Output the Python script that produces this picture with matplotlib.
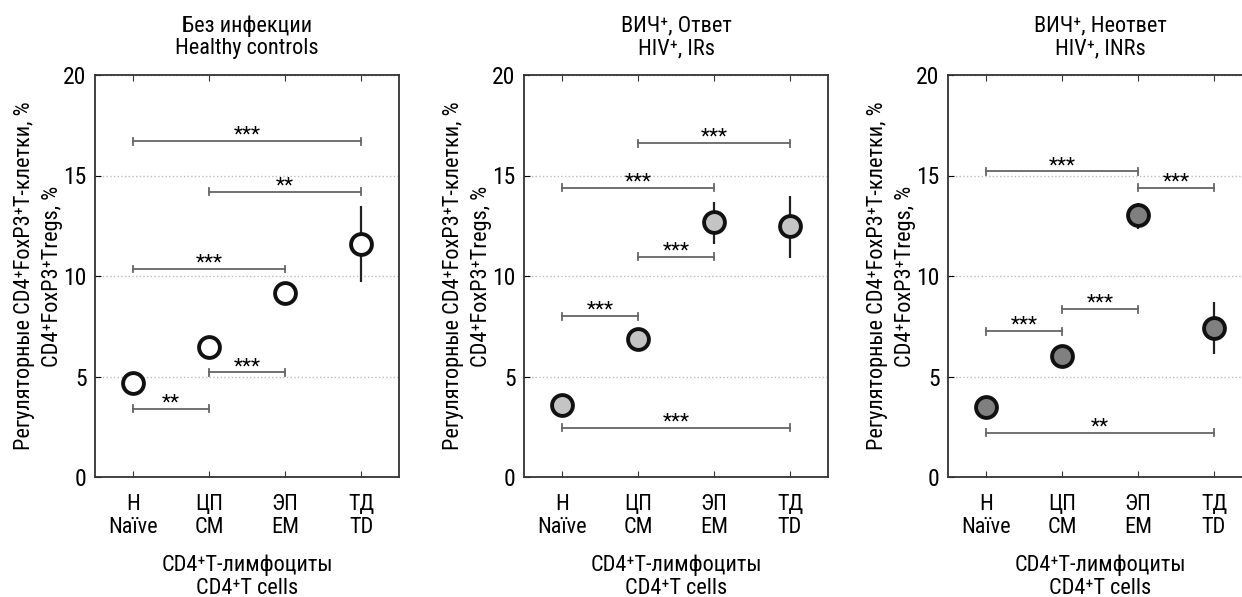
import matplotlib
matplotlib.use('Agg')
import matplotlib.pyplot as plt
import numpy as np

plt.rcParams['font.family'] = ['Roboto Condensed', 'DejaVu Sans']

# categories
categories = ['Н\nNaïve', 'ЦП\nCM', 'ЭП\nEM', 'ТД\nTD']
titles = ['Без инфекции\nHealthy controls', 'ВИЧ⁺, Ответ\nHIV⁺, IRs',
          'ВИЧ⁺, Неответ\nHIV⁺, INRs']
ylabel = 'Регуляторные CD4⁺FoxP3⁺T-клетки, %\nCD4⁺FoxP3⁺Tregs, %'
xlabel = 'CD4⁺T-лимфоциты\nCD4⁺T cells'
fills = ['white', '#c4c4c4', '#808080']

# means and error bar limits (low, high) per group
means_hc = [4.7, 6.45, 9.15, 11.6]
err_lo_hc = [4.5, 6.3, 9.0, 9.7]
err_hi_hc = [4.9, 6.6, 9.3, 13.5]

means_ir = [3.6, 6.85, 12.7, 12.5]
err_lo_ir = [3.4, 6.7, 11.6, 10.9]
err_hi_ir = [3.8, 7.0, 13.7, 14.0]

means_inr = [3.5, 6.0, 13.05, 7.4]
err_lo_inr = [3.3, 5.8, 12.35, 6.1]
err_hi_inr = [3.7, 6.2, 13.65, 8.7]

# significance brackets: (from, to, height, label)
brackets_hc = [(1, 4, 16.7, '***'), (2, 4, 14.2, '**'), (1, 3, 10.35, '***'),
               (2, 3, 5.2, '***'), (1, 2, 3.4, '**')]
brackets_ir = [(2, 4, 16.6, '***'), (1, 3, 14.4, '***'), (2, 3, 10.95, '***'),
               (1, 2, 8.0, '***'), (1, 4, 2.45, '***')]
brackets_inr = [(1, 3, 15.2, '***'), (3, 4, 14.4, '***'), (2, 3, 8.35, '***'),
                (1, 2, 7.25, '***'), (1, 4, 2.2, '**')]

panels = [
    (means_hc, err_lo_hc, err_hi_hc, brackets_hc),
    (means_ir, err_lo_ir, err_hi_ir, brackets_ir),
    (means_inr, err_lo_inr, err_hi_inr, brackets_inr),
]

fig = plt.figure(figsize=(12.42, 5.97), dpi=100)
lefts = [95 / 1242, 524 / 1242, 948 / 1242]
w = 304 / 1242
b = (597 - 477) / 597
h = 402 / 597

x = np.arange(1, 5)
for i, (m, lo, hi, brs) in enumerate(panels):
    ax = fig.add_axes([lefts[i], b, w, h])
    m = np.array(m)
    yerr = [m - np.array(lo), np.array(hi) - m]
    ax.errorbar(x, m, yerr=yerr, fmt='none', ecolor='#222222', elinewidth=1.6, zorder=3)
    ax.plot(x, m, 'o', ms=15, mfc=fills[i], mec='#111111', mew=2.8, zorder=4)

    for a, c, yv, lab in brs:
        ax.plot([a, c], [yv, yv], color='#666666', lw=1.3, zorder=2)
        for xe in (a, c):
            ax.plot([xe, xe], [yv - 0.17, yv + 0.17], color='#666666', lw=1.3, zorder=2)
        ax.text((a + c) / 2, yv + 0.02, lab, ha='center', va='baseline', fontsize=15)

    ax.set_xlim(0.5, 4.5)
    ax.set_ylim(0, 20)
    ax.set_yticks([0, 5, 10, 15, 20])
    ax.set_xticks(x)
    ax.set_xticklabels(categories, fontsize=16, linespacing=1.15)
    ax.tick_params(axis='y', labelsize=17, direction='in', length=4, pad=6)
    ax.tick_params(axis='x', direction='in', length=4, top=True, pad=12, color='#333333')
    ax.grid(axis='y', linestyle=':', color='#bbbbbb', lw=1.0)
    for sp in ax.spines.values():
        sp.set_linewidth(1.3)
        sp.set_color('#333333')

    ax.set_title(titles[i], fontsize=16, pad=15, linespacing=1.1)
    ax.set_ylabel(ylabel, fontsize=16, linespacing=1.45, labelpad=0)
    ax.set_xlabel(xlabel, fontsize=16, linespacing=1.1, labelpad=12)

fig.savefig('out.png', dpi=100)
